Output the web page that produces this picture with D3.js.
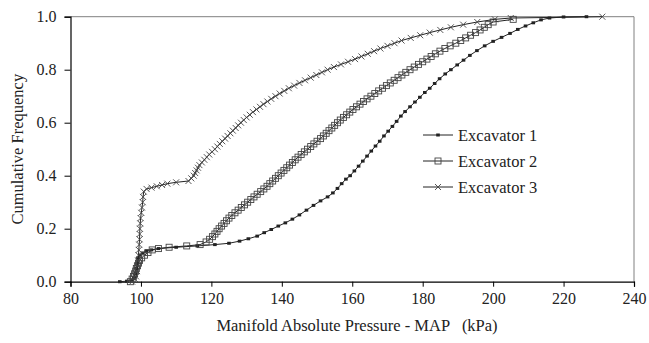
<!DOCTYPE html>
<html><head><meta charset="utf-8">
<script src="https://d3js.org/d3.v7.min.js"></script>
<style>body{margin:0;background:#fff}svg{display:block}</style>
</head><body>
<script>
// ---- data (MAP kPa, cumulative frequency) ----
const ex1X = [94,96,97.5,98,98.3,98.6,98.9,99.2,99.7,100.5,101.5,103,105,110,116,121,125,128,130.5,133,135,137,139,141,143,145,147,149,151,153,154.5,155.8,157,158.2,159.4,160.6,161.8,163,164.2,165.4,166.6,167.8,169,170.2,171.4,172.6,173.8,175,176.4,177.8,179.2,180.6,182,183.4,184.8,186.4,188,189.8,191.6,193.4,195.4,197.6,200,202.4,204.8,207,209.2,211.4,213.6,216,220,226.5];
const ex1Y = [0,0.002,0.006,0.015,0.03,0.05,0.07,0.09,0.1,0.108,0.115,0.12,0.125,0.13,0.135,0.14,0.145,0.153,0.162,0.172,0.185,0.197,0.21,0.222,0.236,0.252,0.27,0.288,0.305,0.32,0.335,0.352,0.37,0.387,0.4,0.418,0.436,0.455,0.474,0.493,0.512,0.53,0.55,0.568,0.586,0.605,0.625,0.642,0.66,0.678,0.696,0.714,0.73,0.748,0.766,0.784,0.8,0.818,0.836,0.854,0.872,0.89,0.907,0.922,0.937,0.952,0.965,0.977,0.988,0.995,0.999,1.0];
const ex2X = [97,97.5,97.9,98.2,98.5,98.7,99,99.3,99.6,100.2,101,102,103.2,105,108,113,116.8,118.5,119.5,120.3,121,121.6,122.2,122.9,123.6,124.3,125,125.8,126.7,127.6,128.5,129.4,130.3,131.2,132.1,133,134,134.9,135.8,136.6,137.4,138.2,139,139.8,140.6,141.4,142.2,143,143.8,144.6,145.5,146.4,147.3,148.2,149.1,150,151,151.8,152.6,153.4,154.2,155,155.8,156.6,157.5,158.4,159.3,160.2,161.2,162.2,163.2,164.2,165.3,166.4,167.5,168.6,169.7,170.8,171.9,173,174.1,175.2,176.4,177.6,178.8,180,181.2,182.4,183.6,184.9,186.3,187.8,189.4,190.8,192.2,193.6,195,196.3,197.5,198.6,200,205.7];
const ex2Y = [0,0.01,0.02,0.03,0.04,0.05,0.06,0.07,0.08,0.09,0.1,0.11,0.12,0.125,0.13,0.135,0.14,0.15,0.16,0.17,0.18,0.19,0.2,0.21,0.22,0.23,0.24,0.25,0.26,0.27,0.28,0.29,0.3,0.31,0.32,0.33,0.34,0.35,0.36,0.37,0.38,0.39,0.4,0.41,0.42,0.43,0.44,0.45,0.46,0.47,0.48,0.49,0.5,0.51,0.52,0.53,0.54,0.55,0.56,0.57,0.58,0.59,0.6,0.61,0.62,0.63,0.64,0.65,0.66,0.67,0.68,0.69,0.7,0.71,0.72,0.73,0.74,0.75,0.76,0.77,0.78,0.79,0.8,0.81,0.82,0.83,0.84,0.85,0.86,0.87,0.88,0.89,0.9,0.91,0.92,0.93,0.94,0.95,0.96,0.97,0.98,0.99,1.0];
const ex3X = [97.5,98.3,98.6,98.9,99.1,99.2,99.3,99.4,99.5,99.6,99.65,99.7,99.8,99.9,100.1,100.3,100.5,100.6,100.8,101.6,103,104.5,106,107.5,110,113.5,114.3,115,115.4,115.8,116.2,116.6,117.3,118,118.7,119.4,120.2,121,121.7,122.4,123.1,123.9,124.6,125.4,126.1,126.9,127.6,128.4,129.2,130,130.9,131.8,132.8,133.8,134.8,135.9,137,138.2,139.4,140.7,142,143.5,145,146.6,148.2,149.8,151.4,153,154.8,156.8,158.8,160.8,162.6,164.4,166.2,168,170,172,174,176.6,179.3,182,185,188,191.5,195.5,200.5,205,231];
const ex3Y = [0,0.01,0.02,0.04,0.06,0.08,0.1,0.12,0.14,0.16,0.18,0.2,0.22,0.24,0.26,0.28,0.3,0.32,0.34,0.35,0.355,0.36,0.365,0.37,0.375,0.38,0.39,0.4,0.41,0.42,0.43,0.44,0.45,0.46,0.47,0.48,0.49,0.5,0.51,0.52,0.53,0.54,0.55,0.56,0.57,0.58,0.59,0.6,0.61,0.62,0.63,0.64,0.65,0.66,0.67,0.68,0.69,0.7,0.71,0.72,0.73,0.74,0.75,0.76,0.77,0.78,0.79,0.8,0.81,0.82,0.83,0.84,0.85,0.86,0.87,0.88,0.89,0.9,0.91,0.92,0.93,0.94,0.95,0.96,0.97,0.98,0.99,0.995,1.0];
const seriesNames = ["Excavator 1","Excavator 2","Excavator 3"];
const xTicks = [80,100,120,140,160,180,200,220,240];
const yTicks = [0,0.2,0.4,0.6,0.8,1.0];

const W = 649, H = 343;
const m = {left:70.5, right:634, top:16.7, bottom:281.7};
const svg = d3.select("body").append("svg").attr("width",W).attr("height",H);
const x = d3.scaleLinear().domain([80,240]).range([m.left,m.right]);
const y = d3.scaleLinear().domain([0,1]).range([m.bottom,m.top]);
const FONT = '"Liberation Serif"';

svg.append("path").attr("d",`M${m.left},${m.top}H${m.right}V${m.bottom}`)
  .attr("fill","none").attr("stroke","#808080").attr("stroke-width",1);

const xAxis = svg.append("g").attr("transform",`translate(0,${m.bottom})`)
  .call(d3.axisBottom(x).tickValues(xTicks).tickSize(5).tickPadding(6).tickFormat(d3.format("d")));
const yAxis = svg.append("g").attr("transform",`translate(${m.left},0)`)
  .call(d3.axisLeft(y).tickValues(yTicks).tickSize(6).tickPadding(8).tickFormat(d3.format(".1f")));
[xAxis,yAxis].forEach(g=>{
  g.attr("font-family",null);
  g.select(".domain").attr("stroke","#000").attr("stroke-width",1.2);
  g.selectAll(".tick line").attr("stroke","#000");
  g.selectAll("text").style("font-family",FONT).style("font-size","16px").attr("fill","#222");
});

svg.append("text").attr("x",357).attr("y",331)
  .attr("text-anchor","middle").style("font-family",FONT).style("font-size","16.5px").attr("fill","#222")
  .style("white-space","pre").text("Manifold Absolute Pressure - MAP   (kPa)");
svg.append("text").attr("transform",`translate(23,${(m.top+m.bottom)/2}) rotate(-90)`)
  .attr("text-anchor","middle").style("font-family",FONT).style("font-size","16.5px").attr("fill","#222")
  .text("Cumulative Frequency");

const line = d3.line().x(d=>x(d[0])).y(d=>y(d[1]));
const data = [d3.zip(ex1X,ex1Y), d3.zip(ex2X,ex2Y), d3.zip(ex3X,ex3Y)];
const col = "#222";

function marker(g, i, cx, cy){
  if(i===0){
    g.append("rect").attr("x",cx-1.8).attr("y",cy-1.5).attr("width",3.6).attr("height",3).attr("fill",col);
  } else if(i===1){
    g.append("rect").attr("x",cx-3).attr("y",cy-3).attr("width",6).attr("height",6)
      .attr("fill","none").attr("stroke","#444").attr("stroke-width",0.9);
  } else {
    g.append("path").attr("d",`M${cx-3},${cy-3}L${cx+3},${cy+3}M${cx-3},${cy+3}L${cx+3},${cy-3}`)
      .attr("stroke","#444").attr("stroke-width",0.9);
  }
}

data.forEach((pts,i)=>{
  svg.append("path").datum(pts).attr("d",line).attr("fill","none").attr("stroke",col).attr("stroke-width",1);
  const g = svg.append("g");
  pts.forEach(p=>marker(g,i,x(p[0]),y(p[1])));
});

const legY = [135,161,187];
seriesNames.forEach((n,i)=>{
  svg.append("line").attr("x1",423).attr("x2",453).attr("y1",legY[i]).attr("y2",legY[i]).attr("stroke",col).attr("stroke-width",1);
  marker(svg,i,438,legY[i]);
  svg.append("text").attr("x",458).attr("y",legY[i]).attr("dy","0.35em")
    .style("font-family",FONT).style("font-size","16.5px").attr("fill","#222").text(n);
});
</script>
</body></html>
